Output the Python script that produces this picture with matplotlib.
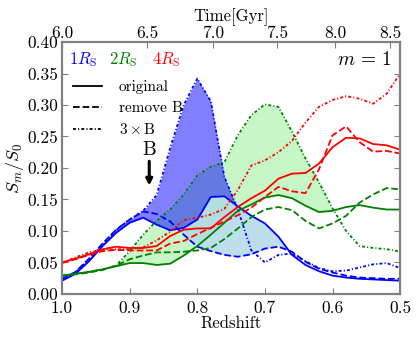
import numpy as np
import matplotlib
matplotlib.use('Agg')
import matplotlib.pyplot as plt
from matplotlib.lines import Line2D

plt.rcParams['font.family'] = 'serif'
plt.rcParams['font.serif'] = ['cmr10']
plt.rcParams['mathtext.fontset'] = 'cm'
plt.rcParams['axes.formatter.use_mathtext'] = True

# redshift grid
z = [1.00, 0.98, 0.96, 0.94, 0.92, 0.90, 0.88, 0.86, 0.84, 0.82, 0.80, 0.78, 0.76,
     0.74, 0.72, 0.70, 0.68, 0.66, 0.64, 0.62, 0.60, 0.58, 0.56, 0.54, 0.52, 0.50]

# 1 R_S
r1_orig = [0.021, 0.032, 0.052, 0.076, 0.097, 0.113, 0.121, 0.110, 0.101, 0.105, 0.118, 0.154, 0.155,
           0.139, 0.124, 0.112, 0.091, 0.062, 0.046, 0.036, 0.029, 0.026, 0.024, 0.023, 0.022, 0.021]
r1_noB = [0.024, 0.035, 0.056, 0.080, 0.102, 0.118, 0.131, 0.127, 0.115, 0.094, 0.075, 0.068, 0.062,
          0.059, 0.063, 0.072, 0.075, 0.067, 0.051, 0.040, 0.034, 0.029, 0.026, 0.025, 0.024, 0.024]
r1_3B = [0.022, 0.034, 0.055, 0.079, 0.101, 0.118, 0.132, 0.157, 0.232, 0.300, 0.342, 0.306, 0.186,
         0.134, 0.069, 0.050, 0.062, 0.064, 0.052, 0.041, 0.036, 0.037, 0.042, 0.047, 0.049, 0.041]

# 2 R_S
r2_orig = [0.029, 0.032, 0.035, 0.039, 0.044, 0.049, 0.049, 0.046, 0.048, 0.061, 0.076, 0.094, 0.113,
           0.132, 0.142, 0.153, 0.157, 0.152, 0.140, 0.130, 0.132, 0.138, 0.141, 0.137, 0.134, 0.134]
r2_noB = [0.029, 0.031, 0.034, 0.038, 0.045, 0.055, 0.061, 0.066, 0.066, 0.067, 0.069, 0.073, 0.087,
          0.104, 0.122, 0.134, 0.138, 0.133, 0.116, 0.104, 0.112, 0.124, 0.145, 0.158, 0.168, 0.166]
r2_3B = [0.029, 0.032, 0.035, 0.039, 0.045, 0.068, 0.094, 0.116, 0.134, 0.158, 0.188, 0.202, 0.209,
         0.252, 0.284, 0.301, 0.297, 0.258, 0.215, 0.177, 0.136, 0.100, 0.076, 0.073, 0.071, 0.067]

# 4 R_S
r4_orig = [0.050, 0.056, 0.063, 0.071, 0.075, 0.073, 0.073, 0.076, 0.092, 0.102, 0.104, 0.104, 0.122,
           0.138, 0.152, 0.164, 0.183, 0.191, 0.192, 0.207, 0.233, 0.248, 0.247, 0.238, 0.236, 0.229]
r4_noB = [0.049, 0.055, 0.062, 0.068, 0.070, 0.069, 0.069, 0.069, 0.080, 0.084, 0.095, 0.105, 0.115,
          0.125, 0.137, 0.154, 0.170, 0.163, 0.160, 0.198, 0.252, 0.266, 0.241, 0.226, 0.227, 0.223]
r4_3B = [0.050, 0.058, 0.066, 0.070, 0.071, 0.071, 0.074, 0.085, 0.099, 0.117, 0.121, 0.126, 0.135,
         0.165, 0.204, 0.212, 0.225, 0.243, 0.272, 0.297, 0.308, 0.314, 0.310, 0.302, 0.318, 0.350]

# top axis: cosmic time labels and the redshift where they sit
time_labels = ['6.0', '6.5', '7.0', '7.5', '8.0', '8.5']
time_z = [1.0, 0.874, 0.777, 0.682, 0.596, 0.515]

z = np.array(z)
r1_orig, r1_noB, r1_3B = map(np.array, (r1_orig, r1_noB, r1_3B))
r2_orig, r2_noB, r2_3B = map(np.array, (r2_orig, r2_noB, r2_3B))
r4_orig, r4_noB, r4_3B = map(np.array, (r4_orig, r4_noB, r4_3B))

fig = plt.figure(figsize=(4.16, 3.39), dpi=100)
ax = fig.add_axes([0.149, 0.133, 0.813, 0.743])

dots = (0, (1.6, 1.2, 0.6, 1.2))
lw = 1.3

# shaded regions (only around the B event)
ax.fill_between(z, r2_orig, r2_3B, where=r2_3B > r2_orig, interpolate=True,
                color='lightgreen', alpha=0.5, lw=0)
ax.fill_between(z, r1_orig, r1_noB, where=r1_orig > r1_noB, interpolate=True,
                color='lightblue', alpha=0.8, lw=0)
ax.fill_between(z, r1_orig, r1_3B, where=(r1_3B > r1_orig) & (z > 0.7), interpolate=True,
                color='blue', alpha=0.5, lw=0)

for col, orig, noB, tB in [('b', r1_orig, r1_noB, r1_3B),
                           ('g', r2_orig, r2_noB, r2_3B),
                           ('r', r4_orig, r4_noB, r4_3B)]:
    ax.plot(z, orig, color=col, lw=lw, ls='-')
    ax.plot(z, noB, color=col, lw=lw, ls='--')
    ax.plot(z, tB, color=col, lw=lw, ls=dots)

ax.set_xlim(1.0, 0.5)
ax.set_ylim(0.0, 0.4)
ax.set_xticks([1.0, 0.9, 0.8, 0.7, 0.6, 0.5])
ax.set_xticklabels(['1.0', '0.9', '0.8', '0.7', '0.6', '0.5'])
ax.set_yticks(np.arange(0, 0.41, 0.05))
ax.set_yticklabels(['%.2f' % v for v in np.arange(0, 0.41, 0.05)])
ax.tick_params(direction='in', right=True, labelsize=12.5, length=4, color='gray', pad=3)
ax.tick_params(axis='x', pad=5)
ax.set_xlabel('Redshift', fontsize=12, labelpad=0)
ax.set_ylabel(r'$S_m/S_0$', fontsize=13)
ax.yaxis.set_label_coords(-0.105, 0.5)
for sp in ax.spines.values():
    sp.set_color('gray')
    sp.set_linewidth(1.5)

ax2 = ax.twiny()
ax2.set_xlim(ax.get_xlim())
ax2.set_xticks(time_z)
ax2.set_xticklabels(time_labels)
ax2.tick_params(direction='in', labelsize=12.5, length=4, color='gray', pad=1)
ax2.set_xlabel('Time[Gyr]', fontsize=12, labelpad=3)
for sp in ax2.spines.values():
    sp.set_color('gray')
    sp.set_linewidth(1.5)

# radius labels
ax.text(0.022, 0.93, r'$1R_{\rm S}$', color='b', fontsize=12, transform=ax.transAxes, va='center')
ax.text(0.14, 0.93, r'$2R_{\rm S}$', color='g', fontsize=12, transform=ax.transAxes, va='center')
ax.text(0.265, 0.93, r'$4R_{\rm S}$', color='r', fontsize=12, transform=ax.transAxes, va='center')
ax.text(0.975, 0.93, r'$m\,=\,1$', fontsize=14, transform=ax.transAxes, ha='right', va='center')

handles = [Line2D([], [], color='k', lw=lw, ls='-'),
           Line2D([], [], color='k', lw=lw, ls='--'),
           Line2D([], [], color='k', lw=lw, ls=dots)]
ax.legend(handles, ['original', 'remove B', r'$3\times$B'], loc='upper left',
          bbox_to_anchor=(0.0, 0.89), frameon=False, fontsize=11,
          handlelength=1.9, handletextpad=1.1, labelspacing=0.45, borderaxespad=0.3)

ax.annotate('B', xy=(0.871, 0.172), xytext=(0.871, 0.215), fontsize=14,
            ha='center', va='bottom',
            arrowprops=dict(arrowstyle='-|>', color='k', lw=2.2, mutation_scale=9,
                            shrinkA=0, shrinkB=0))

fig.savefig('out.png', dpi=100)
